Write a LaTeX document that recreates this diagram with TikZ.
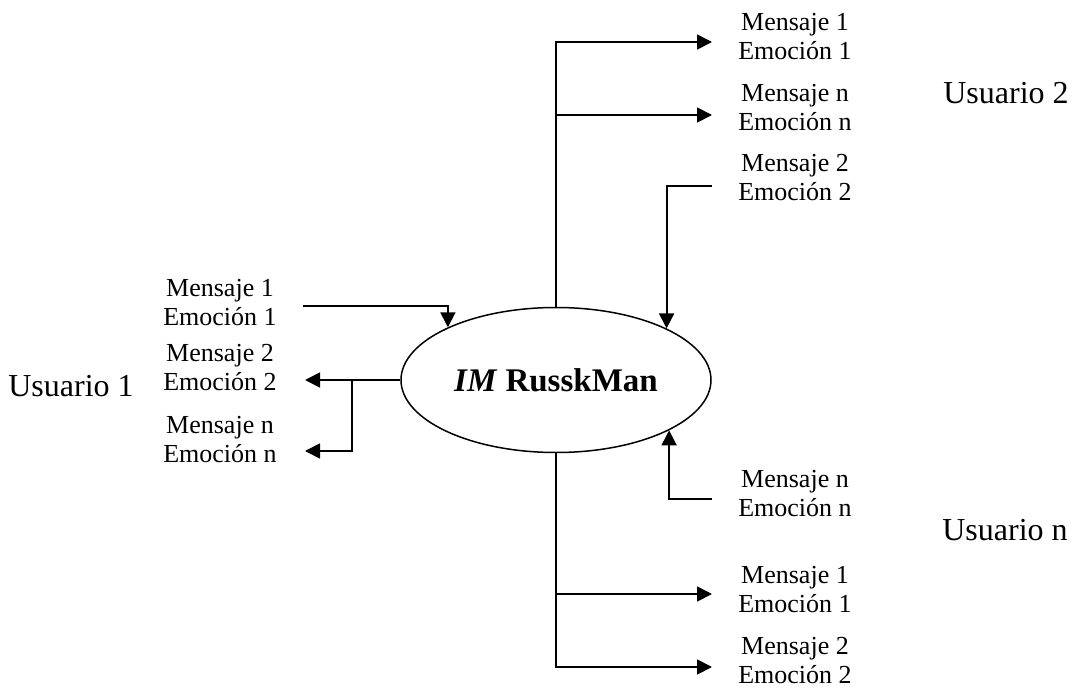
\documentclass[tikz,border=0pt]{standalone}
\usepackage{fontspec}
\setmainfont{Liberation Serif}
\usetikzlibrary{shapes.geometric,arrows.meta}
\tikzset{msg/.style={align=center,font=\fontsize{26}{29}\selectfont,inner sep=0pt},
  usr/.style={font=\fontsize{32}{36}\selectfont,inner sep=0pt},
  flecha/.style={-{Triangle[length=15pt,width=15pt]}}}
\begin{document}
\begin{tikzpicture}[x=1pt,y=-1pt,line width=1.8pt]
\useasboundingbox (0,0) rectangle (1080,688);
\node[draw,ellipse,minimum width=310pt,minimum height=145pt,inner sep=0pt,line width=1.5pt] (im) at (556,380)
  {\fontsize{33}{38}\selectfont\textbf{\textit{IM} RusskMan}};
% Usuario 1
\node[usr] (u1) at (71,386) {Usuario 1};
\node[msg] (u1m1) at (220,303) {Mensaje 1\\Emoción 1};
\node[msg] (u1m2) at (220,368) {Mensaje 2\\Emoción 2};
\node[msg] (u1mn) at (220,440) {Mensaje n\\Emoción n};
% Usuario 2
\node[usr] (u2) at (1006,93) {Usuario 2};
\node[msg] (u2m1) at (795,37) {Mensaje 1\\Emoción 1};
\node[msg] (u2mn) at (795,108) {Mensaje n\\Emoción n};
\node[msg] (u2m2) at (795,178) {Mensaje 2\\Emoción 2};
% Usuario n
\node[usr] (un) at (1005,530) {Usuario n};
\node[msg] (unmn) at (795,494) {Mensaje n\\Emoción n};
\node[msg] (unm1) at (795,590) {Mensaje 1\\Emoción 1};
\node[msg] (unm2) at (795,661) {Mensaje 2\\Emoción 2};
% extremos libres
\coordinate (a1) at (303,306);
\coordinate (b2) at (305,380);
\coordinate (b3) at (305,451);
\coordinate (rama) at (352,380);
\coordinate (c1) at (712,42);
\coordinate (c2) at (712,115);
\coordinate (c3) at (712,186);
\coordinate (d1) at (712,499);
\coordinate (d2) at (712,594);
\coordinate (d3) at (712,667);
% conexiones
\draw[flecha] (a1) -| (im.154);
\draw[flecha] (im.west) -- (b2);
\draw[flecha] (rama) |- (b3);
\draw[flecha] (im.north) |- (c1);
\draw[flecha] (im.north |- c2) -- (c2);
\draw[flecha] (c3) -| (im.25);
\draw[flecha] (d1) -| (im.-24);
\draw[flecha] (im.south) |- (d3);
\draw[flecha] (im.south |- d2) -- (d2);
\end{tikzpicture}
\end{document}
